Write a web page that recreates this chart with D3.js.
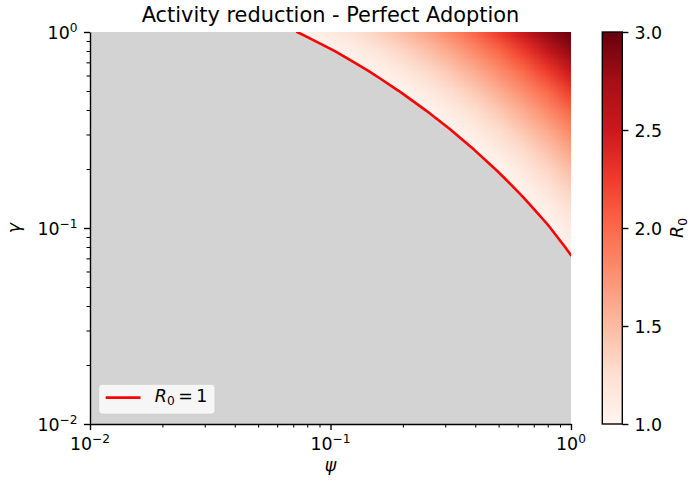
<!DOCTYPE html>
<html>
<head>
<meta charset="utf-8">
<script src="https://cdn.jsdelivr.net/npm/d3@7"></script>
<style>
  body { margin: 0; background: #ffffff; }
  svg { display: block; }
  svg text { font-family: "DejaVu Sans", sans-serif; fill: #000; }
</style>
</head>
<body>
<svg id="chart" width="689" height="484"></svg>
<script>
// Sampled activity reduction (psi) and adoption (gamma) levels, log-spaced
const psiLevels   = [0.0631, 0.0794, 0.1, 0.1259, 0.1585, 0.1995, 0.2512, 0.3162, 0.3981, 0.5012, 0.6310, 0.7943, 1.0];
const gammaLevels = [0.0631, 0.0794, 0.1, 0.1259, 0.1585, 0.1995, 0.2512, 0.3162, 0.3981, 0.5012, 0.6310, 0.7943, 1.0];

// R0 on the grid: one row per gamma level (ascending), one column per psi level (ascending)
const r0Grid = [
  [0.199, 0.224, 0.252, 0.284, 0.322, 0.365, 0.414, 0.472, 0.539, 0.618, 0.711, 0.820, 0.949],
  [0.224, 0.251, 0.282, 0.317, 0.358, 0.405, 0.459, 0.522, 0.594, 0.679, 0.778, 0.894, 1.032],
  [0.252, 0.282, 0.316, 0.355, 0.400, 0.451, 0.510, 0.578, 0.657, 0.748, 0.855, 0.979, 1.126],
  [0.284, 0.317, 0.355, 0.398, 0.447, 0.503, 0.567, 0.642, 0.727, 0.826, 0.942, 1.076, 1.233],
  [0.322, 0.358, 0.400, 0.447, 0.501, 0.563, 0.633, 0.714, 0.808, 0.916, 1.040, 1.185, 1.354],
  [0.365, 0.405, 0.451, 0.503, 0.563, 0.630, 0.708, 0.797, 0.899, 1.017, 1.153, 1.310, 1.492],
  [0.414, 0.459, 0.510, 0.567, 0.633, 0.708, 0.794, 0.891, 1.004, 1.132, 1.280, 1.451, 1.649],
  [0.472, 0.522, 0.578, 0.642, 0.714, 0.797, 0.891, 0.999, 1.122, 1.263, 1.425, 1.612, 1.827],
  [0.539, 0.594, 0.657, 0.727, 0.808, 0.899, 1.004, 1.122, 1.258, 1.413, 1.591, 1.794, 2.029],
  [0.618, 0.679, 0.748, 0.826, 0.916, 1.017, 1.132, 1.263, 1.413, 1.584, 1.779, 2.002, 2.259],
  [0.711, 0.778, 0.855, 0.942, 1.040, 1.153, 1.280, 1.425, 1.591, 1.779, 1.994, 2.239, 2.521],
  [0.820, 0.894, 0.979, 1.076, 1.185, 1.310, 1.451, 1.612, 1.794, 2.002, 2.239, 2.510, 2.819],
  [0.949, 1.032, 1.126, 1.233, 1.354, 1.492, 1.649, 1.827, 2.029, 2.259, 2.521, 2.819, 3.160]
];

const epidemicThreshold = 1;
const xMajorTicks = [0.01, 0.1, 1];
const yMajorTicks = [0.01, 0.1, 1];
const tickExponents = ["\u22122", "\u22121", "0"];
const colorbarTicks = [1.0, 1.5, 2.0, 2.5, 3.0];
const redsPalette = ["#fff5f0", "#fee0d2", "#fcbba1", "#fc9272", "#fb6a4a", "#ef3b2c", "#cb181d", "#a50f15", "#67000d"];

// ---- layout ----
const plot = { left: 90, top: 32, right: 571, bottom: 424 };
const pw = plot.right - plot.left, ph = plot.bottom - plot.top;
const cbar = { left: 602.3, width: 20 };
const fs = 17.4;          // tick / label font size
const supFs = 12.2;       // super/subscript size
const majorLen = 6.1, minorLen = 3.5, axisW = 1.39;

const svg = d3.select("#chart");
const defs = svg.append("defs");

const x = d3.scaleLog().domain([0.01, 1]).range([plot.left, plot.right]);
const y = d3.scaleLog().domain([0.01, 1]).range([plot.bottom, plot.top]);
const color = d3.scaleLinear()
  .domain(d3.range(redsPalette.length).map(k => 1 + k * 2 / (redsPalette.length - 1)))
  .range(redsPalette)
  .clamp(true);
const cbY = d3.scaleLinear().domain([1, 3]).range([plot.bottom, plot.top]);

// ---- clip paths ----
defs.append("clipPath").attr("id", "plotClip")
  .append("rect").attr("x", plot.left).attr("y", plot.top).attr("width", pw).attr("height", ph);

// R0 = 1 contour from the grid, mapped through the log scales
const nx = psiLevels.length, ny = gammaLevels.length;
const flat = r0Grid.flat();
const contour = d3.contours().size([nx, ny]).thresholds([epidemicThreshold])(flat)[0];
const gu = d3.scaleLinear().domain([0.5, nx - 0.5]).range([Math.log10(psiLevels[0]), Math.log10(psiLevels[nx - 1])]);
const gv = d3.scaleLinear().domain([0.5, ny - 0.5]).range([Math.log10(gammaLevels[0]), Math.log10(gammaLevels[ny - 1])]);
const gridToScreen = d3.geoTransform({
  point(px, py) { this.stream.point(x(Math.pow(10, gu(px))), y(Math.pow(10, gv(py)))); }
});
const contourPath = d3.geoPath(gridToScreen)(contour);

defs.append("clipPath").attr("id", "r0Clip")
  .append("path").attr("d", contourPath);

// ---- background for sub-threshold region ----
svg.append("rect")
  .attr("x", plot.left).attr("y", plot.top).attr("width", pw).attr("height", ph)
  .attr("fill", "#d3d3d3");

// ---- heatmap image (smoothly shaded from grid values) ----
const small = document.createElement("canvas");
small.width = nx; small.height = ny;
const sctx = small.getContext("2d");
const imgData = sctx.createImageData(nx, ny);
r0Grid.forEach((row, j) => row.forEach((v, i) => {
  const c = d3.rgb(color(v));
  const k = ((ny - 1 - j) * nx + i) * 4;
  imgData.data[k] = c.r; imgData.data[k + 1] = c.g; imgData.data[k + 2] = c.b; imgData.data[k + 3] = 255;
}));
sctx.putImageData(imgData, 0, 0);

const big = document.createElement("canvas");
big.width = pw; big.height = ph;
const bctx = big.getContext("2d");
bctx.imageSmoothingEnabled = true;
bctx.imageSmoothingQuality = "low";
const halfX = (x(psiLevels[1]) - x(psiLevels[0])) / 2;
const halfY = (y(gammaLevels[0]) - y(gammaLevels[1])) / 2;
const ix0 = x(psiLevels[0]) - halfX - plot.left;
const ix1 = x(psiLevels[nx - 1]) + halfX - plot.left;
const iy0 = y(gammaLevels[ny - 1]) - halfY - plot.top;
const iy1 = y(gammaLevels[0]) + halfY - plot.top;
bctx.drawImage(small, 0, 0, nx, ny, ix0, iy0, ix1 - ix0, iy1 - iy0);

svg.append("g").attr("clip-path", "url(#plotClip)")
  .append("image")
  .attr("x", plot.left).attr("y", plot.top).attr("width", pw).attr("height", ph)
  .attr("preserveAspectRatio", "none")
  .attr("clip-path", "url(#r0Clip)")
  .attr("href", big.toDataURL());

// ---- R0 = 1 line ----
svg.append("g").attr("clip-path", "url(#plotClip)")
  .append("path")
  .attr("d", contourPath)
  .attr("fill", "none")
  .attr("stroke", "#ff0000")
  .attr("stroke-width", 2.6)
  .attr("stroke-linejoin", "round");

// ---- axes ----
function minorTicks(lo, hi) {
  const out = [];
  for (let e = Math.log10(lo); e < Math.log10(hi); e++) {
    for (let k = 2; k <= 9; k++) out.push(k * Math.pow(10, e));
  }
  return out;
}
const xMinor = minorTicks(0.01, 1), yMinor = minorTicks(0.01, 1);

function styleAxis(g) {
  g.selectAll("path").attr("stroke", "#000").attr("stroke-width", axisW);
  g.selectAll("line").attr("stroke", "#000");
}

const gx = svg.append("g").attr("transform", `translate(0,${plot.bottom})`);
gx.call(d3.axisBottom(x).tickValues(xMajorTicks).tickSize(majorLen).tickSizeOuter(0).tickFormat(""));
gx.append("g").call(d3.axisBottom(x).tickValues(xMinor).tickSize(minorLen).tickSizeOuter(0).tickFormat(""))
  .call(g => g.select(".domain").remove());
styleAxis(gx);
gx.selectAll(".tick line").attr("stroke-width", axisW);
gx.selectAll("g g .tick line").attr("stroke-width", 1.04);

const gy = svg.append("g").attr("transform", `translate(${plot.left},0)`);
gy.call(d3.axisLeft(y).tickValues(yMajorTicks).tickSize(majorLen).tickSizeOuter(0).tickFormat(""));
gy.append("g").call(d3.axisLeft(y).tickValues(yMinor).tickSize(minorLen).tickSizeOuter(0).tickFormat(""))
  .call(g => g.select(".domain").remove());
styleAxis(gy);
gy.selectAll(".tick line").attr("stroke-width", axisW);
gy.selectAll("g g .tick line").attr("stroke-width", 1.04);

// power-of-ten tick labels
function powerLabel(sel, exp) {
  sel.append("tspan").text("10");
  sel.append("tspan").attr("font-size", supFs).attr("dy", -6.8).text(exp);
}
xMajorTicks.forEach((v, i) => {
  svg.append("text")
    .attr("x", x(v)).attr("y", plot.bottom + 25.5)
    .attr("text-anchor", "middle").attr("font-size", fs)
    .call(powerLabel, tickExponents[i]);
});
yMajorTicks.forEach((v, i) => {
  svg.append("text")
    .attr("x", plot.left - 12.5).attr("y", y(v) + 6.6)
    .attr("text-anchor", "end").attr("font-size", fs)
    .call(powerLabel, tickExponents[i]);
});

// axis labels and title
svg.append("text")
  .attr("x", (plot.left + plot.right) / 2).attr("y", 471)
  .attr("text-anchor", "middle").attr("font-size", fs).attr("font-style", "italic")
  .text("\u03c8");
svg.append("text")
  .attr("transform", `translate(19.5,${(plot.top + plot.bottom) / 2}) rotate(-90)`)
  .attr("text-anchor", "middle").attr("font-size", fs).attr("font-style", "italic")
  .text("\u03b3");
svg.append("text")
  .attr("x", (plot.left + plot.right) / 2).attr("y", 21.6)
  .attr("text-anchor", "middle").attr("font-size", 20.9)
  .text("Activity reduction - Perfect Adoption");

// ---- legend ----
const lg = svg.append("g");
lg.append("rect")
  .attr("x", 98.7).attr("y", 384.3).attr("width", 116.3).attr("height", 29.8).attr("rx", 3.5)
  .attr("fill", "#ffffff").attr("fill-opacity", 0.8)
  .attr("stroke", "#cccccc").attr("stroke-opacity", 0.8).attr("stroke-width", 1);
lg.append("line")
  .attr("x1", 105.7).attr("x2", 140.5).attr("y1", 397.6).attr("y2", 397.6)
  .attr("stroke", "#ff0000").attr("stroke-width", 2.6);
const lt = lg.append("text").attr("x", 154.8).attr("y", 401.8).attr("font-size", fs);
lt.append("tspan").attr("font-style", "italic").text("R");
lt.append("tspan").attr("font-size", supFs).attr("dy", 3.6).text("0");
lt.append("tspan").attr("dy", -3.6).text("\u2009=\u20091");

// ---- colorbar ----
const grad = defs.append("linearGradient").attr("id", "cbGrad")
  .attr("x1", 0).attr("y1", 1).attr("x2", 0).attr("y2", 0);
color.domain().forEach(v => {
  grad.append("stop").attr("offset", (v - 1) / 2).attr("stop-color", color(v));
});
svg.append("rect")
  .attr("x", cbar.left).attr("y", cbY(3)).attr("width", cbar.width).attr("height", cbY(1) - cbY(3))
  .attr("fill", "url(#cbGrad)")
  .attr("stroke", "#000").attr("stroke-width", axisW);

const gc = svg.append("g").attr("transform", `translate(${cbar.left + cbar.width},0)`);
gc.call(d3.axisRight(cbY).tickValues(colorbarTicks).tickSize(majorLen).tickPadding(6.1)
  .tickFormat(d3.format(".1f")));
gc.select(".domain").remove();
gc.selectAll(".tick line").attr("stroke", "#000").attr("stroke-width", axisW);
gc.selectAll(".tick text")
  .attr("font-size", fs).attr("font-family", "DejaVu Sans").attr("fill", "#000").attr("dy", "0.37em");
gc.attr("font-size", fs).attr("font-family", "DejaVu Sans");

const cl = svg.append("text")
  .attr("transform", `translate(683,${(plot.top + plot.bottom) / 2}) rotate(-90)`)
  .attr("text-anchor", "middle").attr("font-size", fs);
cl.append("tspan").attr("font-style", "italic").text("R");
cl.append("tspan").attr("font-size", supFs).attr("dy", 3.6).text("0");
</script>
</body>
</html>
